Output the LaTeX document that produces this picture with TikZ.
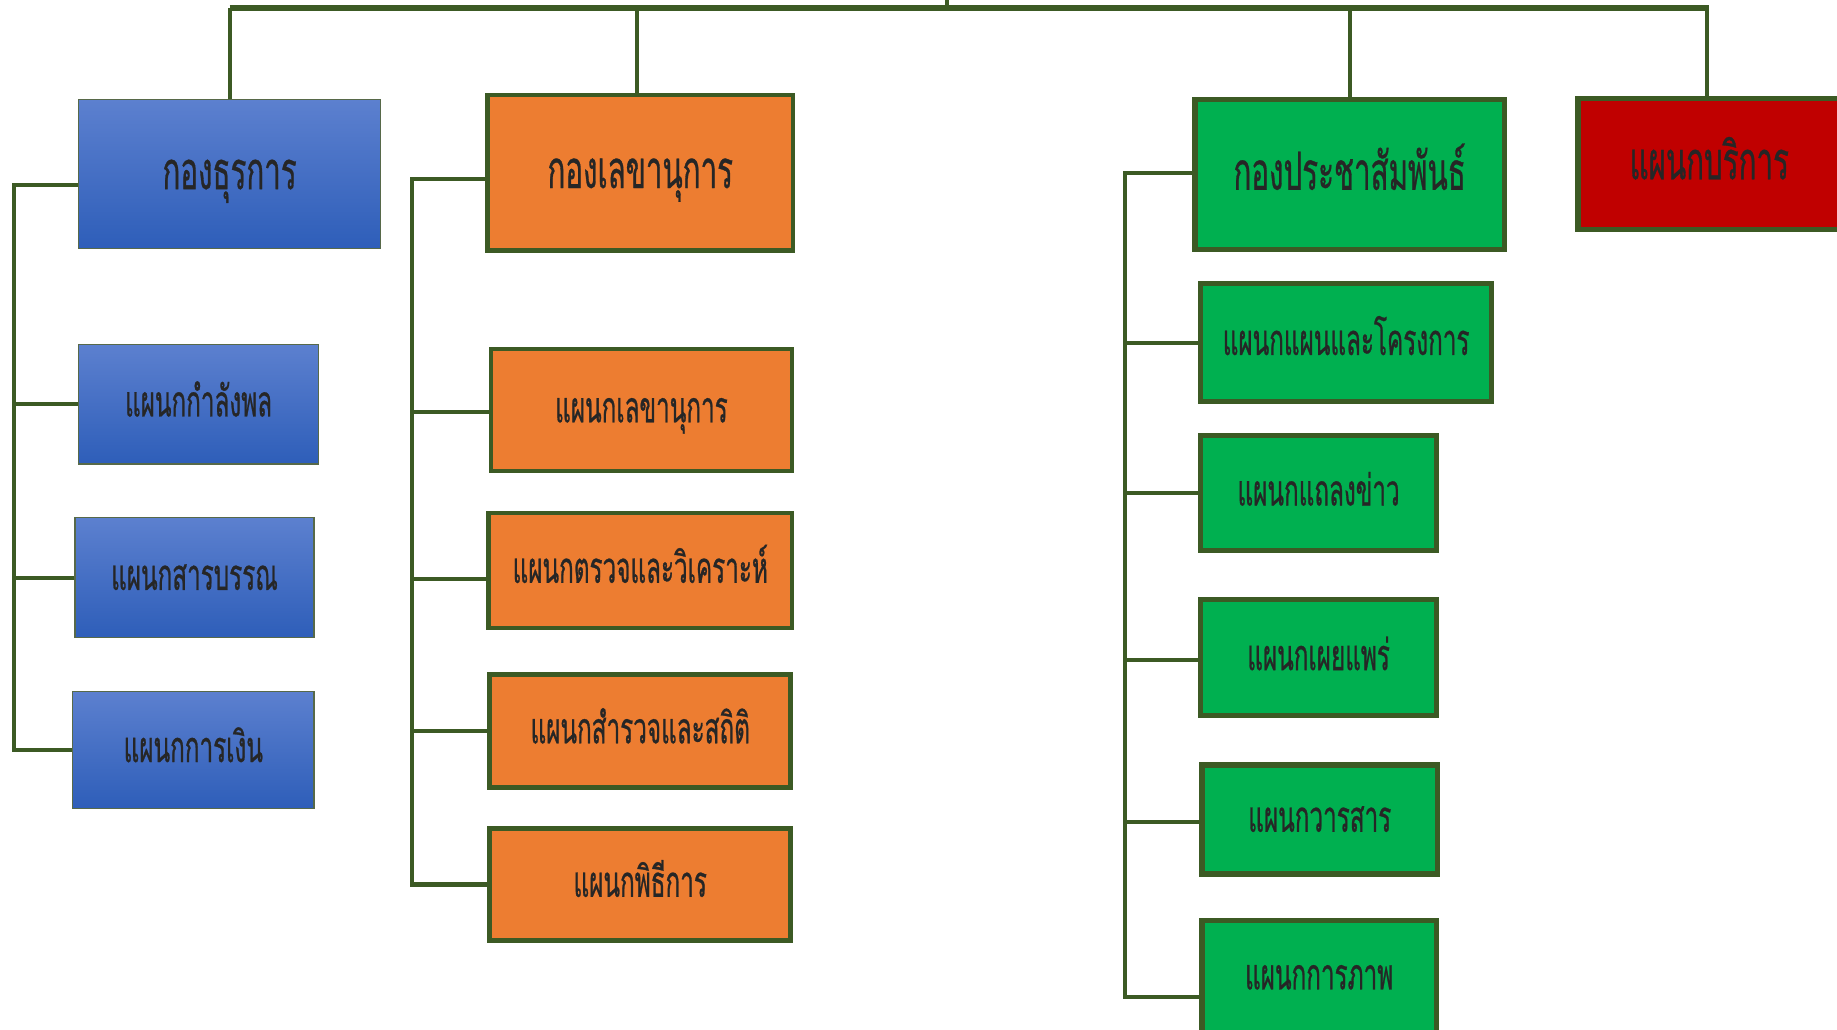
\documentclass[tikz,border=0pt]{standalone}
\usepackage{fontspec}
\newfontfamily\thai[Script=Thai,FakeStretch=0.56,FakeBold=0.6]{Loma}
\definecolor{lnk}{RGB}{60,90,36}
\definecolor{obox}{RGB}{237,125,49}
\definecolor{gbox}{RGB}{0,176,80}
\definecolor{rbox}{RGB}{192,0,0}
\definecolor{btop}{RGB}{92,128,207}
\definecolor{bbot}{RGB}{46,94,185}
\tikzset{
  conn/.style={draw=lnk,line width=3.5pt},
  topbar/.style={draw=lnk,line width=5.5pt},
  boxbase/.style={rectangle,inner sep=0pt,align=center,text=black!85,text depth=0pt},
  headfont/.style={font=\thai\fontsize{45}{50}\selectfont,text height=26pt},
  subfont/.style={font=\thai\fontsize{37}{42}\selectfont,text height=21pt},
  bluebox/.style={boxbase,draw=lnk!60!gray,line width=1pt,top color=btop,bottom color=bbot},
  orangebox/.style={boxbase,draw=lnk,line width=4pt,fill=obox},
  greenbox/.style={boxbase,draw=lnk,line width=4.5pt,fill=gbox},
  redbox/.style={boxbase,draw=lnk,line width=4.5pt,fill=rbox},
}
\begin{document}
\begin{tikzpicture}[x=1pt,y=-1pt]
\useasboundingbox (0,0) rectangle (1568,879);
\clip (0,0) rectangle (1568,879);
% ---- heads
\node[bluebox,headfont,minimum width=258pt,minimum height=127pt] (h1) at (196,148.5) {กองธุรการ};
\node[orangebox,headfont,minimum width=261pt,minimum height=133pt] (h2) at (546.5,147.5) {กองเลขานุการ};
\node[greenbox,headfont,minimum width=264pt,minimum height=128pt] (h3) at (1152,149) {กองประชาสัมพันธ์};
\node[redbox,headfont,minimum width=224pt,minimum height=112pt] (h4) at (1459,140) {แผนกบริการ};
% ---- blue column
\node[bluebox,subfont,minimum width=205pt,minimum height=102pt] (b1) at (169.5,345) {แผนกกำลังพล};
\node[bluebox,subfont,minimum width=204pt,minimum height=102pt] (b2) at (166,493) {แผนกสารบรรณ};
\node[bluebox,subfont,minimum width=206pt,minimum height=100pt] (b3) at (165,640) {แผนกการเงิน};
% ---- orange column
\node[orangebox,subfont,minimum width=257pt,minimum height=104pt] (o1) at (547.5,350) {แผนกเลขานุการ};
\node[orangebox,subfont,minimum width=259pt,minimum height=98pt] (o2) at (546.5,487) {แผนกตรวจและวิเคราะห์};
\node[orangebox,subfont,minimum width=257pt,minimum height=96pt] (o3) at (546.5,624) {แผนกสำรวจและสถิติ};
\node[orangebox,subfont,minimum width=257pt,minimum height=96pt] (o4) at (546.5,755) {แผนกพิธีการ};
% ---- green column
\node[greenbox,subfont,minimum width=248pt,minimum height=101pt] (g1) at (1149,292.5) {แผนกแผนและโครงการ};
\node[greenbox,subfont,minimum width=201pt,minimum height=98pt] (g2) at (1125.5,421) {แผนกแถลงข่าว};
\node[greenbox,subfont,minimum width=201pt,minimum height=99pt] (g3) at (1125.5,561.5) {แผนกเผยแพร่};
\node[greenbox,subfont,minimum width=201pt,minimum height=93pt] (g4) at (1126.5,699.5) {แผนกวารสาร};
\node[greenbox,subfont,minimum width=200pt,minimum height=96pt] (g5) at (1126,834) {แผนกการภาพ};
% ---- top bar
\coordinate (tb) at (0,7);
\coordinate (parent) at (808,0);
\draw[topbar] (h1.north |- tb) -- (h4.north |- tb);
\draw[conn] (parent) -- (parent |- tb);
\draw[conn] (h1.north) -- (h1.north |- tb);
\draw[conn] ([xshift=-2.5pt]h2.north) -- ([xshift=-2.5pt]h2.north |- tb);
\draw[conn] (h3.north) -- (h3.north |- tb);
\draw[conn] ([xshift=-2pt]h4.north) -- ([xshift=-2pt]h4.north |- tb);
% ---- blue bus
\coordinate (bx) at (12,0);
\draw[conn] (h1.west |- 0,158) -- (bx |- 0,158) -- (bx |- b3.west) -- (b3.west);
\draw[conn] (b1.west) -- (bx |- b1.west);
\draw[conn] (b2.west) -- (bx |- b2.west);
% ---- orange bus
\coordinate (ox) at (352,0);
\draw[conn] (h2.west |- 0,153) -- (ox |- 0,153) -- (ox |- o4.west) -- (o4.west);
\draw[conn] (o1.west |- 0,352) -- (ox |- 0,352);
\draw[conn] (o2.west |- 0,494) -- (ox |- 0,494);
\draw[conn] (o3.west) -- (ox |- o3.west);
% ---- green bus
\coordinate (gx) at (960,0);
\draw[conn] (h3.west |- 0,148) -- (gx |- 0,148) -- (gx |- 0,851) -- (g5.west |- 0,851);
\draw[conn] (g1.west) -- (gx |- g1.west);
\draw[conn] (g2.west) -- (gx |- g2.west);
\draw[conn] (g3.west |- 0,563) -- (gx |- 0,563);
\draw[conn] (g4.west |- 0,702) -- (gx |- 0,702);
\end{tikzpicture}
\end{document}
